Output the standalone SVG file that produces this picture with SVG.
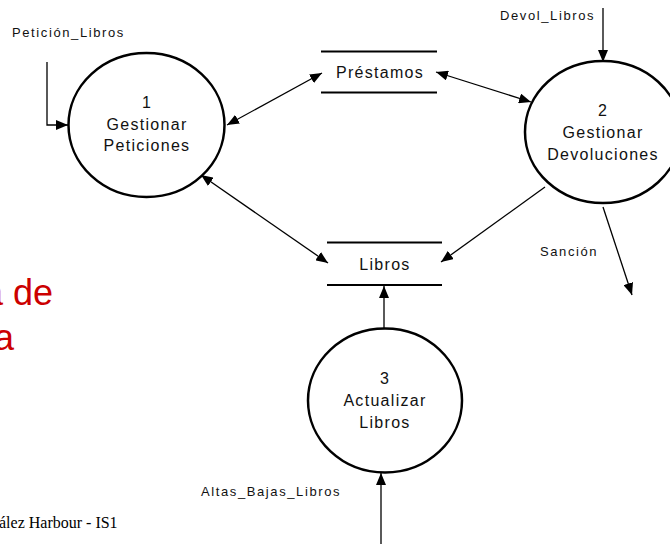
<svg xmlns="http://www.w3.org/2000/svg" width="670" height="544" viewBox="0 0 670 544">
  <style>
    .proc { fill: #fff; stroke: #000; stroke-width: 2.5; }
    .store { stroke: #000; stroke-width: 2.2; }
    .flow { fill: none; stroke: #000; stroke-width: 1.3; }
    .big { font-family: "Liberation Sans", Arial, sans-serif; font-size: 16px; letter-spacing: 1.3px; fill: #111; text-anchor: middle; }
    .lbl { font-family: "Liberation Sans", Arial, sans-serif; font-size: 13px; letter-spacing: 1.6px; fill: #111; }
    .title { font-family: "Liberation Sans", Arial, sans-serif; font-size: 36px; fill: #cc0000; }
    .foot { font-family: "Liberation Serif", "Times New Roman", serif; font-size: 16px; fill: #000; }
  </style>
  <defs>
    <marker id="arrow" viewBox="0 0 12 10" refX="12" refY="5" markerWidth="12" markerHeight="10" markerUnits="userSpaceOnUse" orient="auto-start-reverse">
      <path d="M0,0 L12,5 L0,10 Z" fill="#000"/>
    </marker>
  </defs>

  <!-- slide background text, running off the left edge -->
  <text class="title" x="-17" y="305">a de</text>
  <text class="title" x="-6" y="350">a</text>
  <text class="foot" x="-1" y="528">ález Harbour - IS1</text>

  <!-- data flows -->
  <g id="connectors">
    <path class="flow" d="M47,62 L47,125 L68,125" marker-end="url(#arrow)"/>
    <line class="flow" x1="227" y1="125" x2="322" y2="73" marker-start="url(#arrow)" marker-end="url(#arrow)"/>
    <line class="flow" x1="436" y1="72" x2="531" y2="102" marker-start="url(#arrow)" marker-end="url(#arrow)"/>
    <line class="flow" x1="201" y1="175" x2="328" y2="263" marker-start="url(#arrow)" marker-end="url(#arrow)"/>
    <line class="flow" x1="545" y1="187" x2="441" y2="262" marker-end="url(#arrow)"/>
    <line class="flow" x1="384" y1="328" x2="384" y2="286" marker-end="url(#arrow)"/>
    <line class="flow" x1="603" y1="8" x2="603" y2="62" marker-end="url(#arrow)"/>
    <line class="flow" x1="603" y1="207" x2="632" y2="295" marker-end="url(#arrow)"/>
    <line class="flow" x1="381" y1="544" x2="381" y2="473" marker-end="url(#arrow)"/>
  </g>

  <!-- flow labels -->
  <text class="lbl" x="12" y="37">Petición_Libros</text>
  <text class="lbl" x="500" y="20">Devol_Libros</text>
  <text class="lbl" x="540" y="256">Sanción</text>
  <text class="lbl" x="201" y="496">Altas_Bajas_Libros</text>

  <g id="proc1">
    <ellipse class="proc" cx="146.5" cy="125" rx="78" ry="72"/>
    <text class="big" x="147" y="108">1</text>
    <text class="big" x="147" y="130">Gestionar</text>
    <text class="big" x="147" y="151">Peticiones</text>
  </g>

  <g id="proc2">
    <ellipse class="proc" cx="603" cy="132" rx="78" ry="71"/>
    <text class="big" x="603" y="116">2</text>
    <text class="big" x="603" y="138">Gestionar</text>
    <text class="big" x="603" y="160">Devoluciones</text>
  </g>

  <g id="proc3">
    <ellipse class="proc" cx="385" cy="400.5" rx="77" ry="72"/>
    <text class="big" x="385" y="384">3</text>
    <text class="big" x="385" y="406">Actualizar</text>
    <text class="big" x="385" y="428">Libros</text>
  </g>

  <g id="store-prestamos">
    <line class="store" x1="321" y1="51.5" x2="437" y2="51.5"/>
    <line class="store" x1="321" y1="92.5" x2="437" y2="92.5"/>
    <text class="big" x="380" y="78">Préstamos</text>
  </g>

  <g id="store-libros">
    <line class="store" x1="327" y1="242.5" x2="442" y2="242.5"/>
    <line class="store" x1="327" y1="285" x2="442" y2="285"/>
    <text class="big" x="385" y="270">Libros</text>
  </g>
</svg>
